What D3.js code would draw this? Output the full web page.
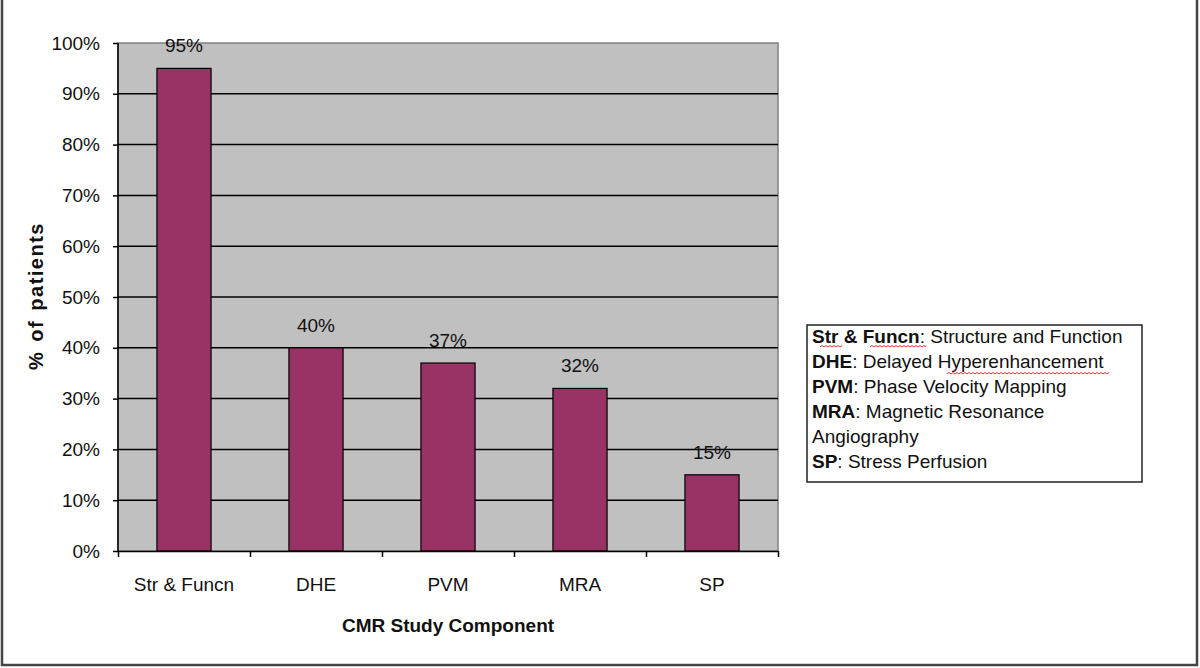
<!DOCTYPE html>
<meta charset="utf-8">
<style>
body { margin: 0; background: #fff; }
text { font-family: "Liberation Sans", Arial, sans-serif; fill: #111; }
.axis path, .axis line { stroke: #000; stroke-width: 1.5px; }
.axis text { font-size: 19px; }
.grid { stroke: #000; stroke-width: 1.5px; }
.bar { fill: #993366; stroke: #000; stroke-width: 1.2px; }
.title { font-weight: bold; font-size: 19px; }
.legend text { font-size: 19px; }
</style>
<body>
<script src="https://d3js.org/d3.v7.min.js"></script>
<script>

// chart data
var categories = ["Str & Funcn", "DHE", "PVM", "MRA", "SP"];
var values = [95, 40, 37, 32, 15];
var yTicks = [0, 10, 20, 30, 40, 50, 60, 70, 80, 90, 100];
var legendAbbr = ["Str & Funcn", "DHE", "PVM", "MRA", "", "SP"];
var legendText = [": Structure and Function", ": Delayed Hyperenhancement", ": Phase Velocity Mapping",
                  ": Magnetic Resonance", "Angiography", ": Stress Perfusion"];

var W = 1200, H = 668;
var margin = {top: 43, left: 118},
    width = 660,
    height = 508;

var svg = d3.select("body").append("svg")
    .attr("width", W)
    .attr("height", H);

// outer frame
svg.append("rect")
    .attr("x", 2).attr("y", -4)
    .attr("width", 1195).attr("height", 669)
    .attr("fill", "none")
    .attr("stroke", "#444")
    .attr("stroke-width", 2.5);

var g = svg.append("g")
    .attr("transform", "translate(" + margin.left + "," + margin.top + ")");

var x = d3.scaleBand().domain(categories).range([0, width]).paddingInner(0.59).paddingOuter(0.295);
var xEdge = d3.scaleLinear().domain([0, categories.length]).range([0, width]);
var y = d3.scaleLinear().domain([0, 100]).range([height, 0]);

// plot area
g.append("rect")
    .attr("width", width)
    .attr("height", height)
    .attr("fill", "#c0c0c0")
    .attr("stroke", "#808080")
    .attr("stroke-width", 1.5);

// gridlines
g.selectAll(".grid")
    .data(yTicks.filter(function(d) { return d > 0 && d < 100; }))
  .enter().append("line")
    .attr("class", "grid")
    .attr("x1", 0).attr("x2", width)
    .attr("y1", function(d) { return y(d); })
    .attr("y2", function(d) { return y(d); });

// bars
g.selectAll(".bar")
    .data(values)
  .enter().append("rect")
    .attr("class", "bar")
    .attr("x", function(d, i) { return x(categories[i]); })
    .attr("width", x.bandwidth())
    .attr("y", function(d) { return y(d); })
    .attr("height", function(d) { return height - y(d); });

// value labels
g.selectAll(".val")
    .data(values)
  .enter().append("text")
    .attr("class", "val")
    .attr("x", function(d, i) { return x(categories[i]) + x.bandwidth() / 2; })
    .attr("y", function(d) { return y(d) - 16; })
    .attr("text-anchor", "middle")
    .style("font-size", "19px")
    .text(function(d) { return d + "%"; });

// y axis
var yAxis = g.append("g")
    .attr("class", "axis")
    .call(d3.axisLeft(y).tickValues(yTicks).tickSize(5).tickSizeOuter(0).tickPadding(13)
        .tickFormat(function(d) { return d + "%"; }));
yAxis.select(".domain").attr("d", "M0,0V" + height);

// x axis: ticks at category edges, labels at centres
g.append("g")
    .attr("class", "axis")
    .attr("transform", "translate(0," + height + ")")
    .call(d3.axisBottom(xEdge).ticks(categories.length).tickSize(6).tickSizeOuter(0).tickFormat(""));

g.append("g")
    .attr("class", "axis")
    .attr("transform", "translate(0," + height + ")")
    .call(d3.axisBottom(x).tickSize(0).tickPadding(27))
    .call(function(a) { a.select(".domain").remove(); });

// axis titles
svg.append("text")
    .attr("class", "title")
    .attr("transform", "translate(" + (margin.left + width / 2) + ",632)")
    .attr("text-anchor", "middle")
    .text("CMR Study Component");

svg.append("text")
    .attr("class", "title")
    .attr("transform", "translate(43,296) rotate(-90)")
    .attr("text-anchor", "middle")
    .style("font-size", "20px")
    .style("letter-spacing", "1.5px")
    .style("word-spacing", "2px")
    .text("% of patients");

// legend box
var legend = svg.append("g").attr("class", "legend");
legend.append("rect")
    .attr("x", 807).attr("y", 325)
    .attr("width", 335).attr("height", 157)
    .attr("fill", "#fff")
    .attr("stroke", "#222")
    .attr("stroke-width", 1.5);

var rows = legend.selectAll(".row")
    .data(legendText)
  .enter().append("text")
    .attr("class", "row")
    .attr("x", 812)
    .attr("y", function(d, i) { return 343 + i * 25; });
rows.append("tspan")
    .style("font-weight", "bold")
    .text(function(d, i) { return legendAbbr[i]; });
rows.append("tspan")
    .text(function(d) { return d; });

// spell-check squiggles
function squiggle(x0, x1, yy) {
  var p = "M" + x0 + "," + yy, up = true;
  for (var xx = x0 + 2; xx <= x1; xx += 2) { p += "L" + xx + "," + (yy + (up ? -1.5 : 0)); up = !up; }
  legend.append("path").attr("d", p).attr("fill", "none").attr("stroke", "#e03030").attr("stroke-width", 1);
}
squiggle(820, 843, 347);
squiggle(870, 927, 347);
squiggle(947, 1110, 374);

</script>
</body>
